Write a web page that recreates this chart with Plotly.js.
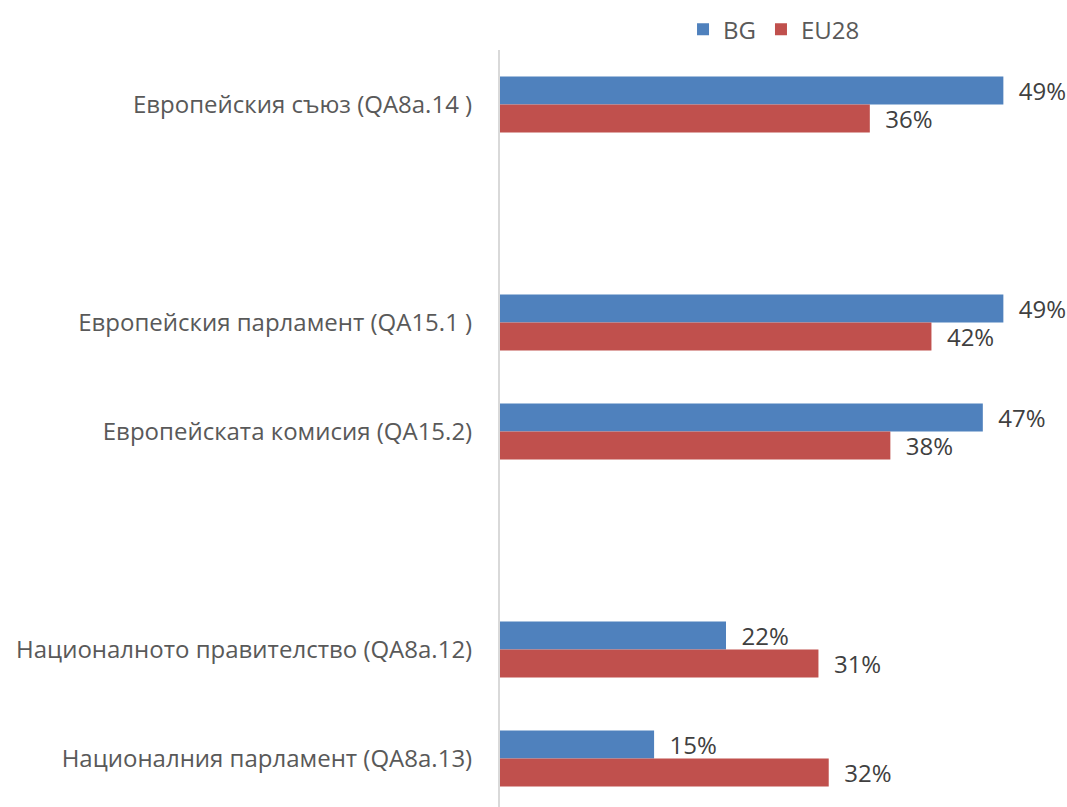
<!DOCTYPE html>
<html>
<head>
<meta charset="utf-8">
<script src="https://cdn.plot.ly/plotly-3.0.1.min.js"></script>
<style>html,body{margin:0;padding:0;background:#fff;}#chart{width:1067px;height:807px;}</style>
</head>
<body>
<div id="chart"></div>
<script>
const categories = [
  "Европейския съюз (QA8a.14 )",
  " ",
  "Европейския парламент (QA15.1 )",
  "Европейската комисия (QA15.2)",
  "  ",
  "Националното правителство (QA8a.12)",
  "Националния парламент (QA8a.13)"
];
const bgValues = [49, null, 49, 47, null, 22, 15];
const eu28Values = [36, null, 42, 38, null, 31, 32];
const seriesNames = ["BG", "EU28"];
const seriesColors = ["#4F81BD", "#C0504D"];

const fontFam = "Open Sans, Liberation Sans, sans-serif";
const fs = 24;
function mk(vals, i) {
  return {
    type: "bar", orientation: "h",
    y: categories, x: vals, name: seriesNames[i],
    marker: {color: seriesColors[i]},
    texttemplate: vals.map(v => v == null ? "" : "  " + v + "%"),
    textposition: "outside", cliponaxis: false, constraintext: "none",
    textfont: {family: fontFam, size: fs, color: "#404040"},
    hoverinfo: "none"
  };
}
const data = [mk(bgValues, 0), mk(eu28Values, 1)];
const layout = {
  width: 1067, height: 807,
  margin: {l: 500, r: 2, t: 50, b: 0},
  barmode: "group", bargap: 0.486, bargroupgap: 0,
  paper_bgcolor: "#fff", plot_bgcolor: "#fff",
  font: {family: fontFam, size: fs, color: "#595959"},
  showlegend: true,
  legend: {orientation: "h", x: 0.485, xanchor: "center", y: 0.997, yanchor: "bottom",
    font: {family: fontFam, size: fs, color: "#595959"}, traceorder: "normal"},
  xaxis: {range: [0, 55], showgrid: false, zeroline: false, showticklabels: false,
    showline: false, fixedrange: true},
  yaxis: {type: "category", categoryorder: "array", categoryarray: categories,
    range: [6.445, -0.5], showgrid: false, zeroline: false,
    showline: true, linecolor: "#D9D9D9", linewidth: 2, ticks: "",
    ticklabelstandoff: 21, tickfont: {family: fontFam, size: fs, color: "#595959"}}
};
Plotly.newPlot("chart", data, layout, {displayModeBar: false, staticPlot: true});
</script>
</body>
</html>
